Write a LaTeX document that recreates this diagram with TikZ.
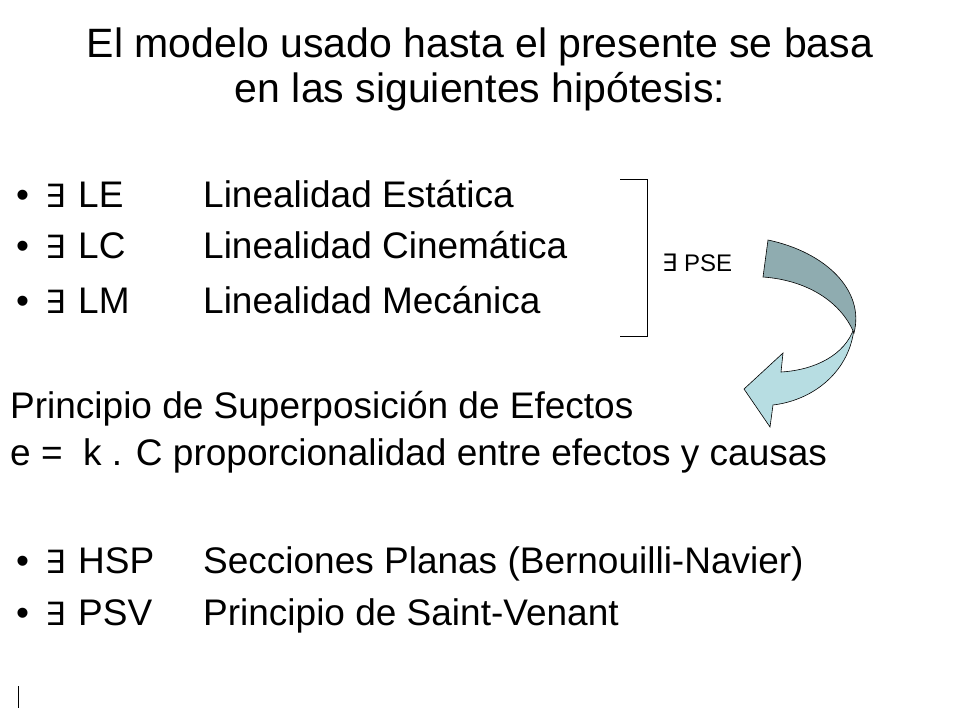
\documentclass[tikz,border=0pt]{standalone}
\usepackage{fontspec}
\setmainfont{Liberation Sans}
\newfontfamily\symf{DejaVu Sans}
\begin{document}
\begin{tikzpicture}[x=1pt,y=-1pt,
  tt/.style={anchor=base,font=\fontsize{41}{46}\selectfont},
  bt/.style={anchor=base west,font=\fontsize{37}{42}\selectfont,inner sep=0},
  ex/.style={anchor=base west,font=\fontsize{32}{36}\symf\selectfont,inner sep=0}]
\useasboundingbox (0,0) rectangle (960,720);
\node[tt] (t1) at (480,57) {El modelo usado hasta el presente se basa};
\node[tt] (t2) at (480,102) {en las siguientes hipótesis:};
\foreach \y/\a/\b [count=\i] in {207/LE/Linealidad Estática,258/LC/Linealidad Cinemática,313/LM/Linealidad Mecánica,573/HSP/Secciones Planas (Bernouilli-Navier),625/PSV/Principio de Saint-Venant}{
  \node[bt] (bu\i) at (16,\y) {•};
  \node[ex] (ex\i) at (45,\y) {∃};
  \node[bt] (ab\i) at (78,\y) {\a};
  \node[bt] (de\i) at (203,\y) {\b};
}
\node[bt] (p1) at (10,418) {Principio de Superposición de Efectos};
\node[bt] (p2) at (10,465) {e =\ \ k . C proporcionalidad entre efectos y causas};
\draw[line width=0.8pt] (620,179) -- (647,179) -- (647,336) -- (620,336);
\node[anchor=base west,font=\fontsize{24}{28}\selectfont,inner sep=0] (pse) at (662,271) {{\symf ∃} PSE};
\draw[fill={rgb,255:red,183;green,221;blue,226},line width=0.6pt]
  (854,328) .. controls (850,370) and (815,400) .. (773,405) -- (770,427) -- (744,389) -- (783,353) -- (781,372) .. controls (815,370) and (845,355) .. (854,328) -- cycle;
\draw[fill={rgb,255:red,143;green,172;blue,176},line width=0.6pt]
  (768,240) .. controls (825,252) and (865,290) .. (854,333) .. controls (840,300) and (805,280) .. (763,277) -- cycle;
\draw[line width=0.8pt] (18,686) -- (18,708);
\end{tikzpicture}
\end{document}
